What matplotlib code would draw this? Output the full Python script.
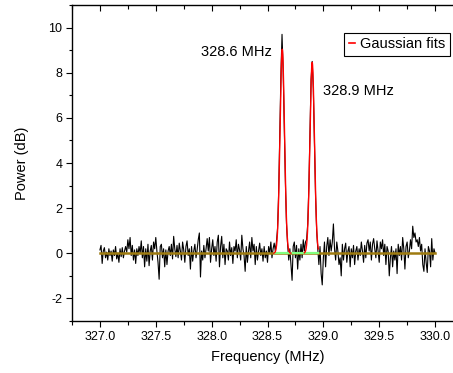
import numpy as np
import matplotlib
matplotlib.use("Agg")
import matplotlib.pyplot as plt
from matplotlib.lines import Line2D
from matplotlib.ticker import MultipleLocator

plt.rcParams['font.family'] = ['Liberation Sans', 'DejaVu Sans']
plt.rcParams['axes.unicode_minus'] = False

# measured spectrum, 327.00 .. 330.00 MHz in 0.01 MHz steps
f_start, f_step = 327.0, 0.01
power_db = [
    0.15, 0.35, -0.45, 0.1, 0.25, -0.2, 0.05, -0.3, 0.2, -0.1,
    0.1, -0.35, 0.15, -0.1, 0.3, -0.25, 0.0, -0.4, 0.2, -0.15,
    0.25, -0.2, 0.1, 0.3, 0.05, 0.6, 0.2, 0.7, -0.1, 0.35,
    -0.3, 0.15, -0.45, 0.2, -0.1, 0.3, 0.0, 0.55, -0.2, 0.3,
    -0.6, 0.2, -0.35, 0.4, -0.55, 0.1, 0.35, -0.3, 0.5, 0.2,
    0.7, 0.1, -0.4, -1.15, 0.3, 0.4, -0.2, 0.2, -0.6, 0.15,
    -0.5, 0.1, 0.3, -0.1, 0.4, -0.25, 0.75, 0.2, -0.15, 0.35,
    -0.2, 0.45, 0.1, -0.3, 0.5, 0.15, -0.4, 0.3, 0.55, -0.1,
    0.2, -0.7, 0.3, -0.35, 0.1, 0.4, -0.2, 0.15, 0.6, 0.9,
    -1.05, 0.1, -0.3, 0.35, -0.2, 0.2, 0.65, 0.1, 0.7, -0.4,
    0.2, 0.6, -0.1, 0.3, -0.35, 0.5, 0.8, -0.6, 0.3, 0.75,
    -0.2, 0.4, -0.5, 0.2, 0.1, -0.3, 0.5, -0.1, 0.25, -0.45,
    0.3, 0.1, 0.6, -0.2, 0.4, 0.15, -0.3, 0.8, 0.2, -0.1,
    -0.8, 0.3, -0.4, 0.1, 0.5, -0.2, 0.7, 0.1, 0.4, -0.5,
    0.3, -0.3, 0.1, 0.45, -0.1, 0.2, -0.35, 0.3, -0.2, 0.1,
    -0.4, 0.3, 0.0, 0.5, -0.2, 0.2, 0.45, 0.1, 0.5, 1.1,
    2.7, 5.2, 7.9, 9.7, 8.1, 5.7, 3.2, 1.3, 0.4, -0.3,
    0.2, -0.5, -1.2, 0.3, 0.5, -0.2, 0.35, -0.7, 0.2, -0.3,
    0.4, -0.2, 0.6, 0.1, 0.5, 0.6, 1.3, 2.9, 5.3, 7.7,
    8.5, 7.3, 4.9, 2.6, 1.0, 0.2, -0.5, 0.3, -0.9, -1.4,
    -0.2, 0.5, -0.6, 0.3, 0.7, -0.1, 0.6, 0.1, 0.5, 1.3,
    0.2, -0.3, 0.5, 0.1, -0.5, -0.2, -1.0, 0.4, -0.3, 0.2,
    0.45, -0.4, 0.1, 0.3, -0.6, 0.2, -0.2, 0.35, -0.5, 0.1,
    0.3, -0.3, 0.2, -0.1, 0.5, 0.1, -0.4, 0.35, -0.2, 0.45,
    0.6, 0.1, 0.5, -0.3, 0.4, 0.65, 0.2, -0.2, 0.55, 0.1,
    -0.4, 0.5, 0.2, 0.6, -0.1, 0.4, -0.5, 0.3, 0.1, -1.0,
    -0.2, 0.3, -0.6, 0.1, -0.3, 0.2, -0.9, 0.4, -0.1, 0.3,
    -0.3, 0.7, 0.2, -0.7, 0.3, 0.5, -0.2, 0.1, 0.6, 0.2,
    1.2, 0.7, 0.9, 0.5, 0.6, 0.3, 0.7, 0.1, 0.4, -0.5,
    -0.8, 0.2, -0.4, -0.85, 0.3, 0.1, -0.6, 0.65, -0.3, 0.2,
    0.0,
]

# gaussian fit results
fit_centers = [328.632, 328.900]
fit_amps = [9.04, 8.46]
fit_sigmas = [0.020, 0.020]
fit_windows = [(328.555, 328.71), (328.83, 328.955)]
fit_baseline = 0.0
peak_labels = ["328.6 MHz", "328.9 MHz"]

freq = f_start + f_step * np.arange(len(power_db))

fig = plt.figure(figsize=(4.53, 3.73), dpi=100)
ax = fig.add_axes([72 / 453, 1 - 321 / 373, 391 / 453, 316 / 373])

ax.plot(freq, power_db, color='black', lw=0.8, zorder=2)
ax.plot([freq[0], freq[-1]], [fit_baseline, fit_baseline], color='#9e7b10', lw=1.8, zorder=3)
ax.plot([fit_windows[0][0], fit_windows[1][1]], [fit_baseline, fit_baseline],
        color='#80ff80', lw=1.6, zorder=4)
for c, a, s, (lo, hi) in zip(fit_centers, fit_amps, fit_sigmas, fit_windows):
    xx = np.linspace(lo, hi, 200)
    yy = fit_baseline + a * np.exp(-0.5 * ((xx - c) / s) ** 2)
    ax.plot(xx, yy, color='red', lw=1.0, zorder=5)

ax.text(328.54, 8.9, peak_labels[0], ha='right', va='center', fontsize=10.5)
ax.text(329.0, 7.2, peak_labels[1], ha='left', va='center', fontsize=10.5)

ax.set_xlim(326.75, 330.25)
ax.set_ylim(-3, 11)
ax.xaxis.set_major_locator(MultipleLocator(0.5))
ax.xaxis.set_minor_locator(MultipleLocator(0.25))
ax.yaxis.set_major_locator(MultipleLocator(2))
ax.yaxis.set_minor_locator(MultipleLocator(1))
ax.xaxis.set_major_formatter(plt.FormatStrFormatter('%.1f'))

ax.tick_params(axis='x', which='both', direction='out', top=True, labelsize=9, pad=3.5)
ax.tick_params(axis='x', which='major', length=4, width=0.8)
ax.tick_params(axis='x', which='minor', length=3, width=0.8)
ax.tick_params(axis='y', which='both', direction='out', labelsize=9, pad=3)
ax.tick_params(axis='y', which='major', length=4, width=0.8)
ax.tick_params(axis='y', which='minor', length=2.5, width=0.8)
for sp in ax.spines.values():
    sp.set_linewidth(1.0)
ax.spines['right'].set_visible(False)

# top ticks point inward
for t in ax.xaxis.get_major_ticks() + ax.xaxis.get_minor_ticks():
    t.tick2line.set_marker(3)

ax.set_xlabel("Frequency (MHz)", fontsize=10.5, labelpad=5)
ax.set_ylabel("Power (dB)", fontsize=10.5, labelpad=14)

handle = Line2D([], [], color='red', lw=1.2)
ax.legend([handle], ["Gaussian fits"], loc='upper right',
          bbox_to_anchor=(450 / 453, 1 - 33 / 373), bbox_transform=fig.transFigure,
          borderaxespad=0, fontsize=10.5, frameon=True, fancybox=False,
          edgecolor='black', framealpha=1, handlelength=0.4, handletextpad=0.4,
          borderpad=0.3)
ax.get_legend().get_frame().set_linewidth(0.8)

fig.savefig("out.png", dpi=100)
